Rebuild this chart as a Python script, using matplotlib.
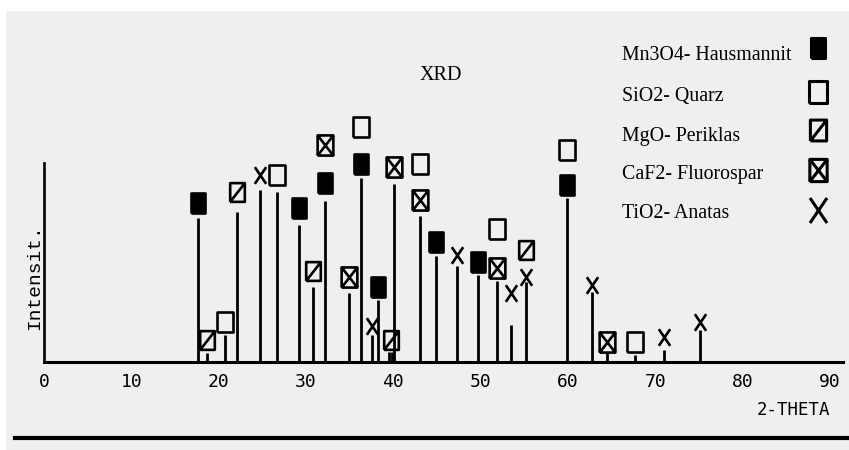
import matplotlib
matplotlib.use("Agg")
import matplotlib.pyplot as plt
from matplotlib.lines import Line2D
from matplotlib.patches import Rectangle
from matplotlib.path import Path

# peak lines (2-theta, intensity)
peak_theta = [17.6, 18.7, 20.7, 22.1, 24.7, 26.7, 29.2, 30.8, 32.2, 34.9,
              36.3, 37.6, 38.2, 39.5, 39.8, 40.1, 43.1, 44.9, 47.3, 49.7,
              51.9, 53.5, 55.2, 59.9, 62.7, 64.5, 67.7, 71.0, 75.1]
peak_height = [72.4, 4.5, 13.6, 75.4, 86.4, 85.4, 68.8, 37.7, 80.9, 34.7,
               92.5, 13.6, 31.2, 5.0, 5.0, 89.4, 73.4, 53.3, 48.2, 43.7,
               40.7, 18.6, 40.2, 82.4, 35.2, 4.5, 3.5, 6.0, 16.1]

# phase markers (2-theta, height of symbol)
mn3o4_theta = [17.6, 29.2, 32.2, 36.3, 38.2, 44.9, 49.7, 59.9]
mn3o4_y = [79.9, 77.4, 89.9, 99.5, 37.7, 60.3, 50.3, 88.9]
sio2_theta = [20.7, 26.7, 36.3, 43.1, 51.9, 59.9, 67.7]
sio2_y = [20.1, 94.0, 118.1, 99.5, 66.8, 106.5, 10.0]
mgo_theta = [18.7, 22.1, 30.8, 39.7, 55.2]
mgo_y = [11.0, 85.4, 45.7, 11.0, 56.3]
caf2_theta = [32.2, 34.9, 40.1, 43.1, 51.9, 64.5]
caf2_y = [109.0, 42.7, 98.0, 81.4, 47.2, 10.0]
tio2_theta = [24.7, 37.6, 47.3, 53.5, 55.2, 62.7, 71.0, 75.1]
tio2_y = [94.0, 18.1, 53.8, 34.7, 42.7, 38.7, 12.6, 20.1]

phase_labels = ['Mn3O4- Hausmannit', 'SiO2- Quarz', 'MgO- Periklas',
                'CaF2- Fluorospar', 'TiO2- Anatas']

x_ticks = [0, 10, 20, 30, 40, 50, 60, 70, 80, 90]


def box_marker(diag1=False, diag2=False, w=0.78):
    hw, hh = w / 2, 0.5
    verts = [(-hw, -hh), (hw, -hh), (hw, hh), (-hw, hh), (-hw, -hh)]
    codes = [Path.MOVETO] + [Path.LINETO] * 4
    if diag1:
        verts += [(-hw, -hh), (hw, hh)]
        codes += [Path.MOVETO, Path.LINETO]
    if diag2:
        verts += [(-hw, hh), (hw, -hh)]
        codes += [Path.MOVETO, Path.LINETO]
    return Path(verts, codes)


def cross_marker(w=0.68):
    hw, hh = w / 2, 0.5
    verts = [(-hw, -hh), (hw, hh), (-hw, hh), (hw, -hh)]
    codes = [Path.MOVETO, Path.LINETO, Path.MOVETO, Path.LINETO]
    return Path(verts, codes)


styles = [
    dict(marker=box_marker(w=0.72), mfc='black', ms=14),
    dict(marker=box_marker(), mfc='none', ms=14.5),
    dict(marker=box_marker(diag1=True), mfc='none', ms=13.5),
    dict(marker=box_marker(diag1=True, diag2=True), mfc='none', ms=14.5),
    dict(marker=cross_marker(), mfc='none', ms=12),
]

fig = plt.figure(figsize=(8.49, 4.5), dpi=100, facecolor='#efefef')
fig.add_artist(Rectangle((0, 1 - 10 / 450), 1, 10 / 450, transform=fig.transFigure,
                         color='white', zorder=0))
fig.add_artist(Rectangle((0, 0), 5 / 849, 1, transform=fig.transFigure,
                         color='white', zorder=0))

ax = fig.add_axes([44 / 849, 88 / 450, 799 / 849, 120 * 1.99 / 450])
ax.set_facecolor('none')
ax.set_xlim(0, 91.5)
ax.set_ylim(0, 120)

ax.vlines(peak_theta, 0, peak_height, colors='black', linewidth=2.0)

series = [(mn3o4_theta, mn3o4_y), (sio2_theta, sio2_y), (mgo_theta, mgo_y),
          (caf2_theta, caf2_y), (tio2_theta, tio2_y)]
for (xs, ys), st in zip(series, styles):
    ax.plot(xs, ys, linestyle='none', marker=st['marker'], ms=st['ms'],
            mfc=st['mfc'], mec='black', mew=1.9, clip_on=False)

for side in ['top', 'right']:
    ax.spines[side].set_visible(False)
ax.spines['left'].set_bounds(0, 100)
ax.spines['left'].set_linewidth(1.9)
ax.spines['bottom'].set_bounds(0, 91.5)
ax.spines['bottom'].set_linewidth(2.2)
ax.set_yticks([])
ax.set_xticks(x_ticks)
ax.tick_params(axis='x', length=0, pad=8)
for lab in ax.get_xticklabels():
    lab.set_family('DejaVu Sans Mono')
    lab.set_fontsize(13)

fig.text(441 / 849, 1 - 75 / 450, 'XRD', family='Liberation Serif',
         fontsize=14.5, ha='center', va='center')
fig.text(793 / 849, 1 - 410 / 450, '2-THETA', family='DejaVu Sans Mono',
         fontsize=12.5, ha='center', va='center')
fig.text(35 / 849, 1 - 277 / 450, 'Intensit.', family='Liberation Mono',
         fontsize=14, rotation=90, ha='center', va='center')

# legend, drawn by hand: labels left-aligned, symbols in a column at right
text_y = [55, 97, 136, 175, 213]
mark_y = [48, 92, 130, 170, 210]
leg_ms = [15, 16.5, 15, 16, 18]
for label, st, ty, my, ms in zip(phase_labels, styles, text_y, mark_y, leg_ms):
    fig.text(622 / 849, 1 - ty / 450, label, family='Liberation Serif',
             fontsize=14.3, ha='left', va='center')
    fig.add_artist(Line2D([818 / 849], [1 - my / 450], transform=fig.transFigure,
                          linestyle='none', marker=st['marker'], ms=ms,
                          mfc=st['mfc'], mec='black', mew=2.2))

fig.add_artist(Line2D([15 / 849, 1], [1 - 438 / 450] * 2, transform=fig.transFigure,
                      color='black', linewidth=3))

fig.savefig('out.png', dpi=100, facecolor=fig.get_facecolor())
